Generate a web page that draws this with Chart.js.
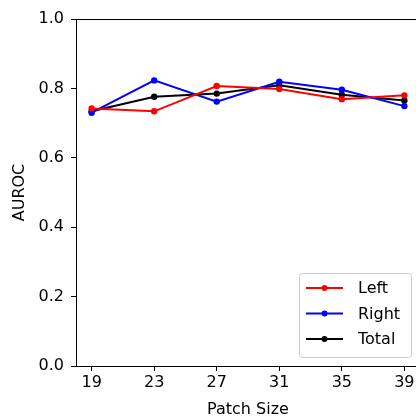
<!DOCTYPE html>
<html>
<head>
<meta charset="utf-8">
<script src="https://cdn.jsdelivr.net/npm/chart.js@4"></script>
<style>
    html, body { margin: 0; padding: 0; background: #fff; overflow: hidden; }
    #wrap { width: 416px; height: 419px; overflow: hidden; }
</style>
</head>
<body>
<div id="wrap"><canvas id="aurocChart" width="430" height="419"></canvas></div>
<script>
var patchSizes = [19, 23, 27, 31, 35, 39];
var leftValues = [0.742, 0.734, 0.807, 0.798, 0.769, 0.780];
var rightValues = [0.730, 0.823, 0.762, 0.819, 0.796, 0.749];
var totalValues = [0.734, 0.776, 0.785, 0.809, 0.782, 0.765];
var yTicks = [0, 0.2, 0.4, 0.6, 0.8, 1.0];

var FONT = "'DejaVu Sans', sans-serif";
var FONT_SIZE = 16;

function toPoints(values) {
    return patchSizes.map(function (p, i) {
        return { x: p, y: values[i] };
    });
}

function makeSet(label, values, color) {
    return {
        label: label,
        data: toPoints(values),
        borderColor: color,
        backgroundColor: color,
        borderWidth: 2,
        pointRadius: 3.2,
        pointHoverRadius: 3.2,
        pointBorderWidth: 0,
        tension: 0,
    };
}

// top spine + matplotlib style legend box
const frameAndLegend = {
    id: "frameAndLegend",
    afterDraw(chart) {
        const { ctx, chartArea: { left, top, right, bottom } } = chart;
        ctx.save();
        ctx.strokeStyle = "#000";
        ctx.lineWidth = 1;
        ctx.beginPath();
        ctx.moveTo(left, top + 0.5);
        ctx.lineTo(right, top + 0.5);
        ctx.moveTo(right - 0.5, top);
        ctx.lineTo(right - 0.5, bottom);
        ctx.stroke();

        var boxW = 112, boxH = 84;
        var bx = right - 9 - boxW, by = bottom - 9 - boxH;
        ctx.fillStyle = "rgba(255,255,255,0.8)";
        ctx.strokeStyle = "#cccccc";
        ctx.beginPath();
        ctx.roundRect(bx + 0.5, by + 0.5, boxW, boxH, 3);
        ctx.fill();
        ctx.stroke();

        ctx.font = FONT_SIZE + "px " + FONT;
        ctx.textBaseline = "middle";
        chart.data.datasets.forEach(function (ds, i) {
            var cy = by + 15 + i * 25.5;
            ctx.strokeStyle = ds.borderColor;
            ctx.lineWidth = 2;
            ctx.beginPath();
            ctx.moveTo(bx + 7, cy);
            ctx.lineTo(bx + 44, cy);
            ctx.stroke();
            ctx.fillStyle = ds.borderColor;
            ctx.beginPath();
            ctx.arc(bx + 25.5, cy, 3, 0, Math.PI * 2);
            ctx.fill();
            ctx.fillStyle = "#000";
            ctx.fillText(ds.label, bx + 59, cy + 1);
        });
        ctx.restore();
    },
};

var ctx = document.getElementById("aurocChart");
var aurocChart = new Chart(ctx, {
    type: "line",
    data: {
        datasets: [
            makeSet("Left", leftValues, "#ff0000"),
            makeSet("Right", rightValues, "#0000ff"),
            makeSet("Total", totalValues, "#000000"),
        ],
    },
    options: {
        responsive: false,
        animation: false,
        layout: { padding: { top: 19, right: 10, left: 0, bottom: 0 } },
        plugins: {
            legend: { display: false },
            tooltip: { enabled: false },
        },
        scales: {
            x: {
                type: "linear",
                min: 18,
                max: 40,
                afterBuildTicks: function (scale) {
                    scale.ticks = patchSizes.map(function (v) { return { value: v }; });
                },
                afterFit: function (scale) { scale.height = 53; },
                grid: { drawOnChartArea: false, tickLength: 5, tickColor: "#000" },
                border: { display: true, color: "#000", width: 1 },
                ticks: { color: "#000", font: { family: FONT, size: FONT_SIZE }, padding: 2, maxRotation: 0 },
                title: { display: true, text: "Patch Size", color: "#000", font: { family: FONT, size: FONT_SIZE }, padding: { top: 0, bottom: 0 } },
            },
            y: {
                min: 0,
                max: 1,
                afterBuildTicks: function (scale) {
                    scale.ticks = yTicks.map(function (v) { return { value: v }; });
                },
                afterFit: function (scale) { scale.width = 76; },
                grid: { drawOnChartArea: false, tickLength: 5, tickColor: "#000" },
                border: { display: true, color: "#000", width: 1 },
                ticks: {
                    color: "#000",
                    font: { family: FONT, size: FONT_SIZE },
                    padding: 7,
                    callback: function (v) { return Number(v).toFixed(1); },
                },
                title: { display: true, text: "AUROC", color: "#000", font: { family: FONT, size: FONT_SIZE }, padding: { top: 10, bottom: 0 } },
            },
        },
    },
    plugins: [frameAndLegend],
});
</script>
</body>
</html>
